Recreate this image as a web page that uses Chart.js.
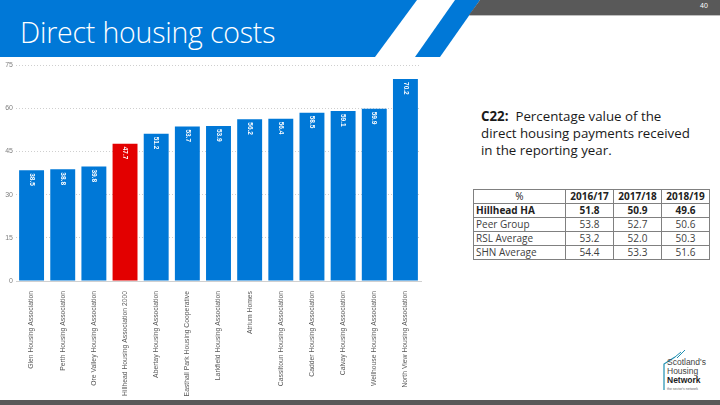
<!DOCTYPE html>
<html>
<head>
<meta charset="utf-8">
<script src="https://cdn.jsdelivr.net/npm/chart.js@4/dist/chart.umd.min.js"></script>
<style>
  html, body { margin: 0; padding: 0; }
  body { width: 720px; height: 405px; position: relative; overflow: hidden; background: #fff; font-family: "Open Sans", "Liberation Sans", sans-serif; }
  #hdr { position: absolute; left: 0; top: 0; }
  #title { position: absolute; left: 20px; top: 13px; color: #fff; font-family: "Open Sans", sans-serif; font-weight: 300; font-size: 28.5px; letter-spacing: -0.2px; white-space: nowrap; }
  #pnum { position: absolute; left: 700px; top: 2px; color: #fff; font-size: 7px; font-family: "Liberation Sans", sans-serif; }
  #chartWrap { position: absolute; left: 0; top: 58px; width: 426px; height: 342px; }
  #desc { position: absolute; left: 481px; top: 108px; width: 236px; font-family: "Open Sans", sans-serif; font-size: 13.3px; line-height: 17px; color: #1a1a1a; white-space: nowrap; }
  #desc b { font-weight: 700; }
  table { position: absolute; left: 473px; top: 189px; border-collapse: collapse; font-family: "Open Sans", sans-serif; font-size: 10px; color: #404040; }
  td { border: 1px solid #808080; height: 13px; padding: 0 2px; line-height: 13px; text-align: center; }
  td.n { text-align: left; width: 87px; }
  td.v { width: 43px; }
  tr.b td { font-weight: 700; color: #222; }
  #foot { position: absolute; left: 0; top: 400px; width: 720px; height: 5px; background: #595959; }
  #logo { position: absolute; left: 655px; top: 348px; }
</style>
</head>
<body>
<svg id="hdr" width="720" height="60">
  <polygon points="0,0 417,0 375,57 0,57" fill="#0078D7"/>
  <polygon points="455,0 480,0 440,57 415,57" fill="#0078D7"/>
  <polygon points="480,0 720,0 720,15 469,15" fill="#595959"/>
  <line x1="469" y1="15.5" x2="720" y2="15.5" stroke="#bfbfbf" stroke-width="1"/>
</svg>
<div id="title">Direct housing costs</div>
<div id="pnum">40</div>

<div id="chartWrap"><canvas id="c" width="426" height="342"></canvas></div>

<div id="desc"><b>C22:</b>&nbsp; Percentage value of the<br>direct housing payments received<br>in the reporting year.</div>

<table id="tbl"></table>

<svg id="logo" width="62" height="50">
  <path d="M9 42 V16 L20 9" fill="none" stroke="#1f8fb0" stroke-width="1.2"/>
  <path d="M20 9 L26 4 M22 10 L30 2" fill="none" stroke="#1f8fb0" stroke-width="1"/>
  <text x="12" y="17" font-size="8.5" fill="#444" font-family="Liberation Sans, sans-serif">Scotland's</text>
  <text x="12" y="26" font-size="8.5" fill="#444" font-family="Liberation Sans, sans-serif">Housing</text>
  <text x="12" y="35" font-size="8.5" fill="#222" font-weight="bold" font-family="Liberation Sans, sans-serif">Network</text>
  <text x="12" y="42" font-size="3.5" fill="#666" font-family="Liberation Sans, sans-serif">the sector's network</text>
</svg>
<div id="foot"></div>

<script>
// ---- data ----
const categories = [
  "Glen Housing Association",
  "Perth Housing Association",
  "Ore Valley Housing Association",
  "Hillhead Housing Association 2000",
  "Abertay Housing Association",
  "Easthall Park Housing Cooperative",
  "Larkfield Housing Association",
  "Atrium Homes",
  "Cassiltoun Housing Association",
  "Cadder Housing Association",
  "Calvay Housing Association",
  "Wellhouse Housing Association",
  "North View Housing Association"
];
const values = [38.5, 38.8, 39.8, 47.7, 51.2, 53.7, 53.9, 56.2, 56.4, 58.5, 59.1, 59.9, 70.2];
const highlightName = "Hillhead Housing Association 2000";
const yTicks = [0, 15, 30, 45, 60, 75];

const tableYears = ["2016/17", "2017/18", "2018/19"];
const rowNames = ["Hillhead HA", "Peer Group", "RSL Average", "SHN Average"];
const hillheadRow = [51.8, 50.9, 49.6];
const peerRow = [53.8, 52.7, 50.6];
const rslRow = [53.2, 52.0, 50.3];
const shnRow = [54.4, 53.3, 51.6];

// ---- table ----
(function () {
  const rows = [hillheadRow, peerRow, rslRow, shnRow];
  let html = '<tr class="b"><td class="n" style="text-align:center;font-weight:400">%</td>' +
    tableYears.map(y => '<td class="v">' + y + '</td>').join('') + '</tr>';
  rows.forEach((r, i) => {
    html += '<tr' + (i === 0 ? ' class="b"' : '') + '><td class="n">' + rowNames[i] + '</td>' +
      r.map(v => '<td class="v">' + v.toFixed(1) + '</td>').join('') + '</tr>';
  });
  document.getElementById('tbl').innerHTML = html;
})();

// ---- chart ----
const BLUE = '#0078D7', RED = '#E30000';
const barLabels = {
  id: 'barLabels',
  afterDatasetsDraw(chart) {
    const ctx = chart.ctx;
    const meta = chart.getDatasetMeta(0);
    ctx.save();
    ctx.fillStyle = '#fff';
    ctx.font = 'bold 6.5px "Liberation Sans", sans-serif';
    ctx.textAlign = 'left';
    ctx.textBaseline = 'middle';
    meta.data.forEach((el, i) => {
      ctx.save();
      ctx.translate(el.x, el.y + 3);
      ctx.rotate(Math.PI / 2);
      ctx.fillText(values[i].toFixed(1), 0, 0);
      ctx.restore();
    });
    ctx.restore();
  }
};

new Chart(document.getElementById('c'), {
  type: 'bar',
  data: {
    labels: categories,
    datasets: [{
      data: values,
      backgroundColor: categories.map(c => c === highlightName ? RED : BLUE),
      borderWidth: 0,
      barPercentage: 0.8,
      categoryPercentage: 1.0
    }]
  },
  options: {
    responsive: false,
    animation: false,
    layout: { padding: { top: 6, right: 5, left: 0, bottom: 0 } },
    plugins: { legend: { display: false }, tooltip: { enabled: false } },
    scales: {
      x: {
        grid: { display: false },
        border: { display: true, color: '#d0d0d0' },
        ticks: {
          autoSkip: false, maxRotation: 90, minRotation: 90, padding: 2,
          color: '#595959', font: { size: 6.8, family: '"Liberation Sans", sans-serif' }
        },
        afterFit(scale) { scale.height = 119; }
      },
      y: {
        min: 0, max: 75,
        afterBuildTicks(scale) { scale.ticks = yTicks.map(v => ({ value: v })); },
        ticks: { color: '#7f7f7f', padding: 3, font: { size: 7, family: '"Liberation Sans", sans-serif' } },
        grid: { color: '#cfcfcf', drawTicks: false, lineWidth: 1 },
        border: { display: false, dash: [1, 2] },
        afterFit(scale) { scale.width = 16; }
      }
    }
  },
  plugins: [barLabels]
});
</script>
</body>
</html>
